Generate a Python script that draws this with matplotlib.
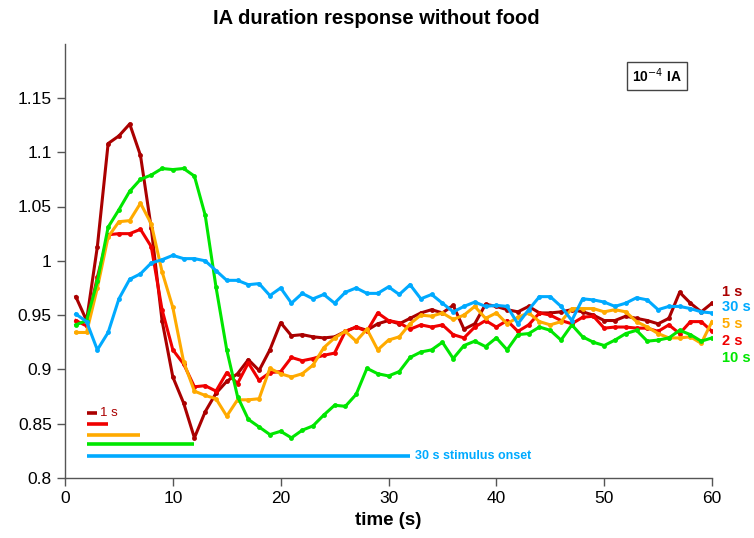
import matplotlib
matplotlib.use("Agg")
import matplotlib.pyplot as plt
import numpy as np

plt.rcParams['font.family'] = ['Liberation Sans', 'DejaVu Sans']

time_s = list(range(1, 61))

dur_1s = [0.967, 0.945, 1.013, 1.108, 1.115, 1.126, 1.097, 1.030, 0.945, 0.893,
          0.869, 0.837, 0.861, 0.878, 0.889, 0.896, 0.909, 0.899, 0.918, 0.943,
          0.931, 0.932, 0.930, 0.929, 0.930, 0.935, 0.939, 0.936, 0.942, 0.945,
          0.942, 0.947, 0.952, 0.955, 0.952, 0.959, 0.937, 0.942, 0.960, 0.958,
          0.955, 0.953, 0.958, 0.952, 0.952, 0.953, 0.955, 0.953, 0.950, 0.945,
          0.945, 0.949, 0.947, 0.945, 0.942, 0.947, 0.971, 0.961, 0.953, 0.961]

dur_2s = [0.945, 0.940, 0.985, 1.024, 1.025, 1.025, 1.029, 1.013, 0.955, 0.918,
          0.905, 0.884, 0.885, 0.880, 0.897, 0.887, 0.906, 0.890, 0.897, 0.898,
          0.911, 0.908, 0.910, 0.913, 0.915, 0.935, 0.939, 0.935, 0.952, 0.945,
          0.943, 0.937, 0.941, 0.939, 0.941, 0.932, 0.929, 0.939, 0.945, 0.939,
          0.945, 0.935, 0.941, 0.952, 0.950, 0.945, 0.942, 0.948, 0.949, 0.938,
          0.939, 0.939, 0.938, 0.938, 0.935, 0.941, 0.933, 0.944, 0.944, 0.935]

dur_5s = [0.934, 0.934, 0.975, 1.022, 1.036, 1.037, 1.053, 1.034, 0.990, 0.957,
          0.907, 0.880, 0.876, 0.873, 0.857, 0.872, 0.872, 0.873, 0.901, 0.896,
          0.893, 0.896, 0.904, 0.920, 0.929, 0.935, 0.926, 0.937, 0.918, 0.927,
          0.930, 0.942, 0.950, 0.949, 0.952, 0.946, 0.950, 0.958, 0.947, 0.952,
          0.942, 0.948, 0.952, 0.944, 0.941, 0.944, 0.956, 0.956, 0.956, 0.953,
          0.955, 0.953, 0.944, 0.939, 0.933, 0.929, 0.929, 0.930, 0.924, 0.944]

dur_10s = [0.941, 0.945, 0.981, 1.031, 1.047, 1.064, 1.075, 1.079, 1.085, 1.084,
           1.085, 1.078, 1.042, 0.976, 0.918, 0.875, 0.854, 0.847, 0.840, 0.843,
           0.837, 0.844, 0.848, 0.858, 0.867, 0.866, 0.877, 0.901, 0.896, 0.894,
           0.898, 0.911, 0.916, 0.918, 0.925, 0.910, 0.922, 0.926, 0.921, 0.929,
           0.918, 0.932, 0.933, 0.939, 0.936, 0.927, 0.941, 0.930, 0.925, 0.922,
           0.927, 0.933, 0.936, 0.926, 0.927, 0.929, 0.936, 0.932, 0.926, 0.929]

dur_30s = [0.951, 0.944, 0.918, 0.934, 0.965, 0.983, 0.988, 0.998, 1.001, 1.005,
           1.002, 1.002, 1.000, 0.991, 0.982, 0.982, 0.978, 0.979, 0.968, 0.975,
           0.961, 0.970, 0.965, 0.969, 0.961, 0.971, 0.975, 0.970, 0.970, 0.976,
           0.969, 0.978, 0.965, 0.969, 0.961, 0.953, 0.958, 0.962, 0.958, 0.959,
           0.958, 0.942, 0.955, 0.967, 0.967, 0.958, 0.945, 0.965, 0.964, 0.962,
           0.958, 0.961, 0.966, 0.964, 0.955, 0.958, 0.958, 0.956, 0.953, 0.952]

series_labels = ['1 s', '30 s', '5 s', '2 s', '10 s']
stim_durations = [1, 2, 5, 10, 30]
stim_levels = [0.860, 0.850, 0.840, 0.831, 0.820]

c_dark = '#AA0000'
c_red = '#F00000'
c_orange = '#FFAA00'
c_green = '#00E600'
c_blue = '#00AAFF'

fig = plt.figure(figsize=(7.54, 5.38), dpi=100)
ax = fig.add_axes([65/754, 1-478/538, (712-65)/754, (478-43.6)/538])

series = [(dur_1s, c_dark), (dur_2s, c_red), (dur_5s, c_orange),
          (dur_10s, c_green), (dur_30s, c_blue)]
for vals, col in series:
    ax.plot(time_s, vals, color=col, lw=2.2, marker='o', ms=3.5,
            markeredgewidth=0, solid_joinstyle='round')

# stimulus bars
bar_cols = [c_dark, c_red, c_orange, c_green, c_blue]
for d, lev, col in zip(stim_durations, stim_levels, bar_cols):
    ax.plot([2, 2 + d], [lev, lev], color=col, lw=2.6, solid_capstyle='butt')
ax.text(3.2, stim_levels[0], '1 s', color=c_dark, fontsize=9.5,
        va='center', ha='left')
ax.text(32.5, stim_levels[4], '30 s stimulus onset', color=c_blue, fontsize=9,
        fontweight='bold', va='center', ha='left')

# right labels
label_cols = [c_dark, c_blue, c_orange, c_red, c_green]
label_y = [291.7, 307, 324, 340.7, 358]
for lab, col, py in zip(series_labels, label_cols, label_y):
    fig.text(722/754, 1 - py/538, lab, color=col, fontsize=10.5,
             fontweight='bold', va='center', ha='left')

# concentration box
ax.text(54.9, 1.170, r'10$^{-4}$ IA', fontsize=10, fontweight='bold',
        ha='center', va='center',
        bbox=dict(boxstyle='square,pad=0.35', fc='white', ec='#444444', lw=1))

ax.set_xlim(0, 60)
ax.set_ylim(0.8, 1.2)
ax.set_xticks([0, 10, 20, 30, 40, 50, 60])
ax.set_yticks([0.8, 0.85, 0.9, 0.95, 1.0, 1.05, 1.1, 1.15])
ax.set_yticklabels(['0.8', '0.85', '0.9', '0.95', '1', '1.05', '1.1', '1.15'])
ax.tick_params(labelsize=12.5, direction='out', length=6, width=1, color='#555555')
ax.spines['top'].set_visible(False)
ax.spines['right'].set_visible(False)
for s in ['left', 'bottom']:
    ax.spines[s].set_color('#555555')
    ax.spines[s].set_linewidth(1)

ax.set_xlabel('time (s)', fontsize=13.5, fontweight='bold', labelpad=4)
fig.text(376/754, 1 - 18/538, 'IA duration response without food',
         fontsize=14.5, fontweight='bold', ha='center', va='center')

fig.savefig('out.png', dpi=100)
